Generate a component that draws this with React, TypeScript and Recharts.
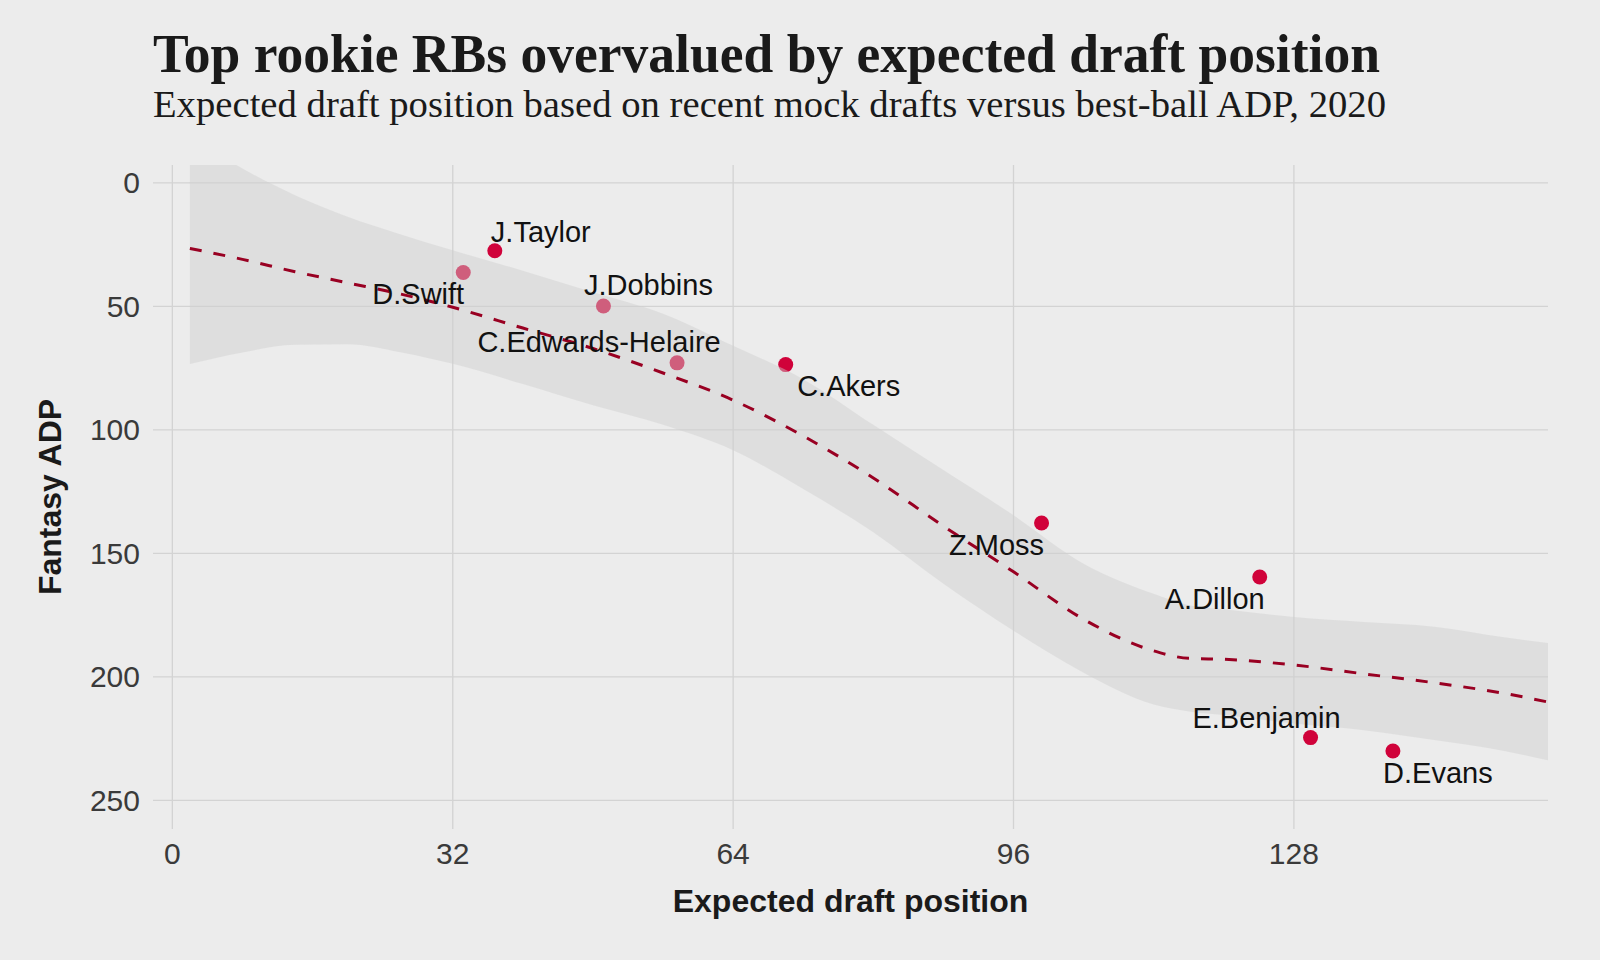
import React from 'react'
import { ComposedChart, Scatter, Area, Line, XAxis, YAxis, CartesianGrid } from 'recharts'

// players: mock-draft expected pick vs best-ball ADP
const players = ['D.Swift', 'J.Taylor', 'J.Dobbins', 'C.Edwards-Helaire', 'C.Akers', 'Z.Moss', 'A.Dillon', 'E.Benjamin', 'D.Evans']
const expectedPick = [33.2, 36.8, 49.2, 57.6, 70.0, 99.2, 124.1, 129.9, 139.3]
const fantasyAdp = [36.3, 27.5, 49.9, 72.9, 73.6, 137.7, 159.6, 224.6, 230.0]

// loess fit + confidence band
const smoothX = [2, 8, 14, 20, 26, 32, 40, 48, 56, 64, 72, 80, 88, 96, 104, 112, 116, 120, 128, 136, 144, 152, 157]
const smoothFit = [26.6, 31, 36, 40.5, 45, 50.4, 58.8, 67.1, 77, 88, 102.5, 119.5, 139, 157.5, 176.7, 189.5, 192.5, 192.9, 195.2, 198.8, 202.4, 206.7, 210.2]
const bandUpper = [-19, -5.8, 5, 13.7, 20.8, 27.3, 35.6, 44.3, 53, 66, 79.5, 98, 116.3, 134.6, 154.2, 166.4, 171, 172.6, 175.8, 177.8, 179.7, 184, 186.3]
const bandLower = [73.4, 68.7, 65.6, 65.4, 68.6, 73.3, 81.5, 90.1, 98, 108.3, 124, 141.5, 162.3, 181.3, 198.3, 211.2, 214, 215.5, 218.9, 221.6, 225.6, 230, 233.8]

const xTicks = [0, 32, 64, 96, 128]
const yTicks = [0, 50, 100, 150, 200, 250]

// where each name sits relative to its dot (px)
const labelNudge: Record<string, [number, number]> = {
  'D.Swift': [-45, 21],
  'J.Taylor': [46, -19],
  'J.Dobbins': [45, -21],
  'C.Edwards-Helaire': [-78, -21],
  'C.Akers': [63, 21],
  'Z.Moss': [-45, 22],
  'A.Dillon': [-45, 22],
  'E.Benjamin': [-44, -20],
  'D.Evans': [45, 22],
}

const points = players.map((name, i) => ({ name, x: expectedPick[i], y: fantasyAdp[i] }))
const smooth = smoothX.map((x, i) => ({ x, fit: smoothFit[i], band: [bandUpper[i], bandLower[i]] }))

const BG = '#ececec'
const sans = '"Liberation Sans", Arial, sans-serif'
const serif = '"Liberation Serif", "Times New Roman", serif'

const Dot = (props: any) => <circle cx={props.cx} cy={props.cy} r={7.5} fill="#d0023a" />

const NameLabel = (props: any) => {
  const [dx, dy] = labelNudge[props.payload.name] || [0, 0]
  return (
    <text
      x={props.cx + dx}
      y={props.cy + dy + 10.4}
      textAnchor="middle"
      fontFamily={sans}
      fontSize={29}
      fill="#111"
    >
      {props.payload.name}
    </text>
  )
}

export default function App() {
  return (
    <div style={{ position: 'absolute', left: 0, top: 0, width: 1600, height: 960, background: BG }}>
      <svg width={1600} height={160} style={{ position: 'absolute', left: 0, top: 0 }}>
        <text x={153} y={72} fontFamily={serif} fontWeight="bold" fontSize={54} fill="#1a1a1a"
          textLength={1227} lengthAdjust="spacingAndGlyphs">
          Top rookie RBs overvalued by expected draft position
        </text>
        <text x={153} y={117} fontFamily={serif} fontSize={37} fill="#1a1a1a"
          textLength={1233} lengthAdjust="spacingAndGlyphs">
          Expected draft position based on recent mock drafts versus best-ball ADP, 2020
        </text>
      </svg>
      <div style={{ position: 'absolute', left: 0, top: 0 }}>
        <ComposedChart width={1600} height={960} margin={{ top: 165, right: 52, bottom: 0, left: 0 }}>
          <CartesianGrid stroke="#d3d3d3" strokeWidth={1.3} horizontalValues={yTicks} verticalValues={xTicks} />
          <XAxis
            type="number"
            dataKey="x"
            domain={[-2.21, 157]}
            ticks={xTicks}
            allowDataOverflow
            axisLine={false}
            tickLine={false}
            tickSize={0}
            tickMargin={14}
            height={131}
            tick={{ fill: '#3a3a3a', fontSize: 30, fontFamily: sans }}
            label={{ value: 'Expected draft position', position: 'center', dy: 6, fill: '#1a1a1a', fontSize: 32, fontWeight: 'bold', fontFamily: sans }}
          />
          <YAxis
            type="number"
            dataKey="y"
            reversed
            domain={[-7.2, 261.6]}
            ticks={yTicks}
            allowDataOverflow
            axisLine={false}
            tickLine={false}
            tickSize={0}
            tickMargin={13}
            width={153}
            tick={{ fill: '#3a3a3a', fontSize: 30, fontFamily: sans }}
            label={{ value: 'Fantasy ADP', position: 'center', angle: -90, dx: -27, fill: '#1a1a1a', fontSize: 32, fontWeight: 'bold', fontFamily: sans }}
          />
          <Scatter data={points} shape={Dot} isAnimationActive={false} zIndex={600} />
          <Area
            data={smooth}
            dataKey="band"
            type="monotone"
            stroke="none"
            fill="#cfcfcf"
            fillOpacity={0.45}
            isAnimationActive={false}
            zIndex={700}
          />
          <Line
            data={smooth}
            dataKey="fit"
            type="monotone"
            stroke="#990022"
            strokeWidth={3}
            strokeDasharray="12 12"
            dot={false}
            activeDot={false}
            isAnimationActive={false}
            zIndex={800}
          />
          <Scatter data={points} shape={NameLabel} isAnimationActive={false} zIndex={900} />
        </ComposedChart>
      </div>
    </div>
  )
}
